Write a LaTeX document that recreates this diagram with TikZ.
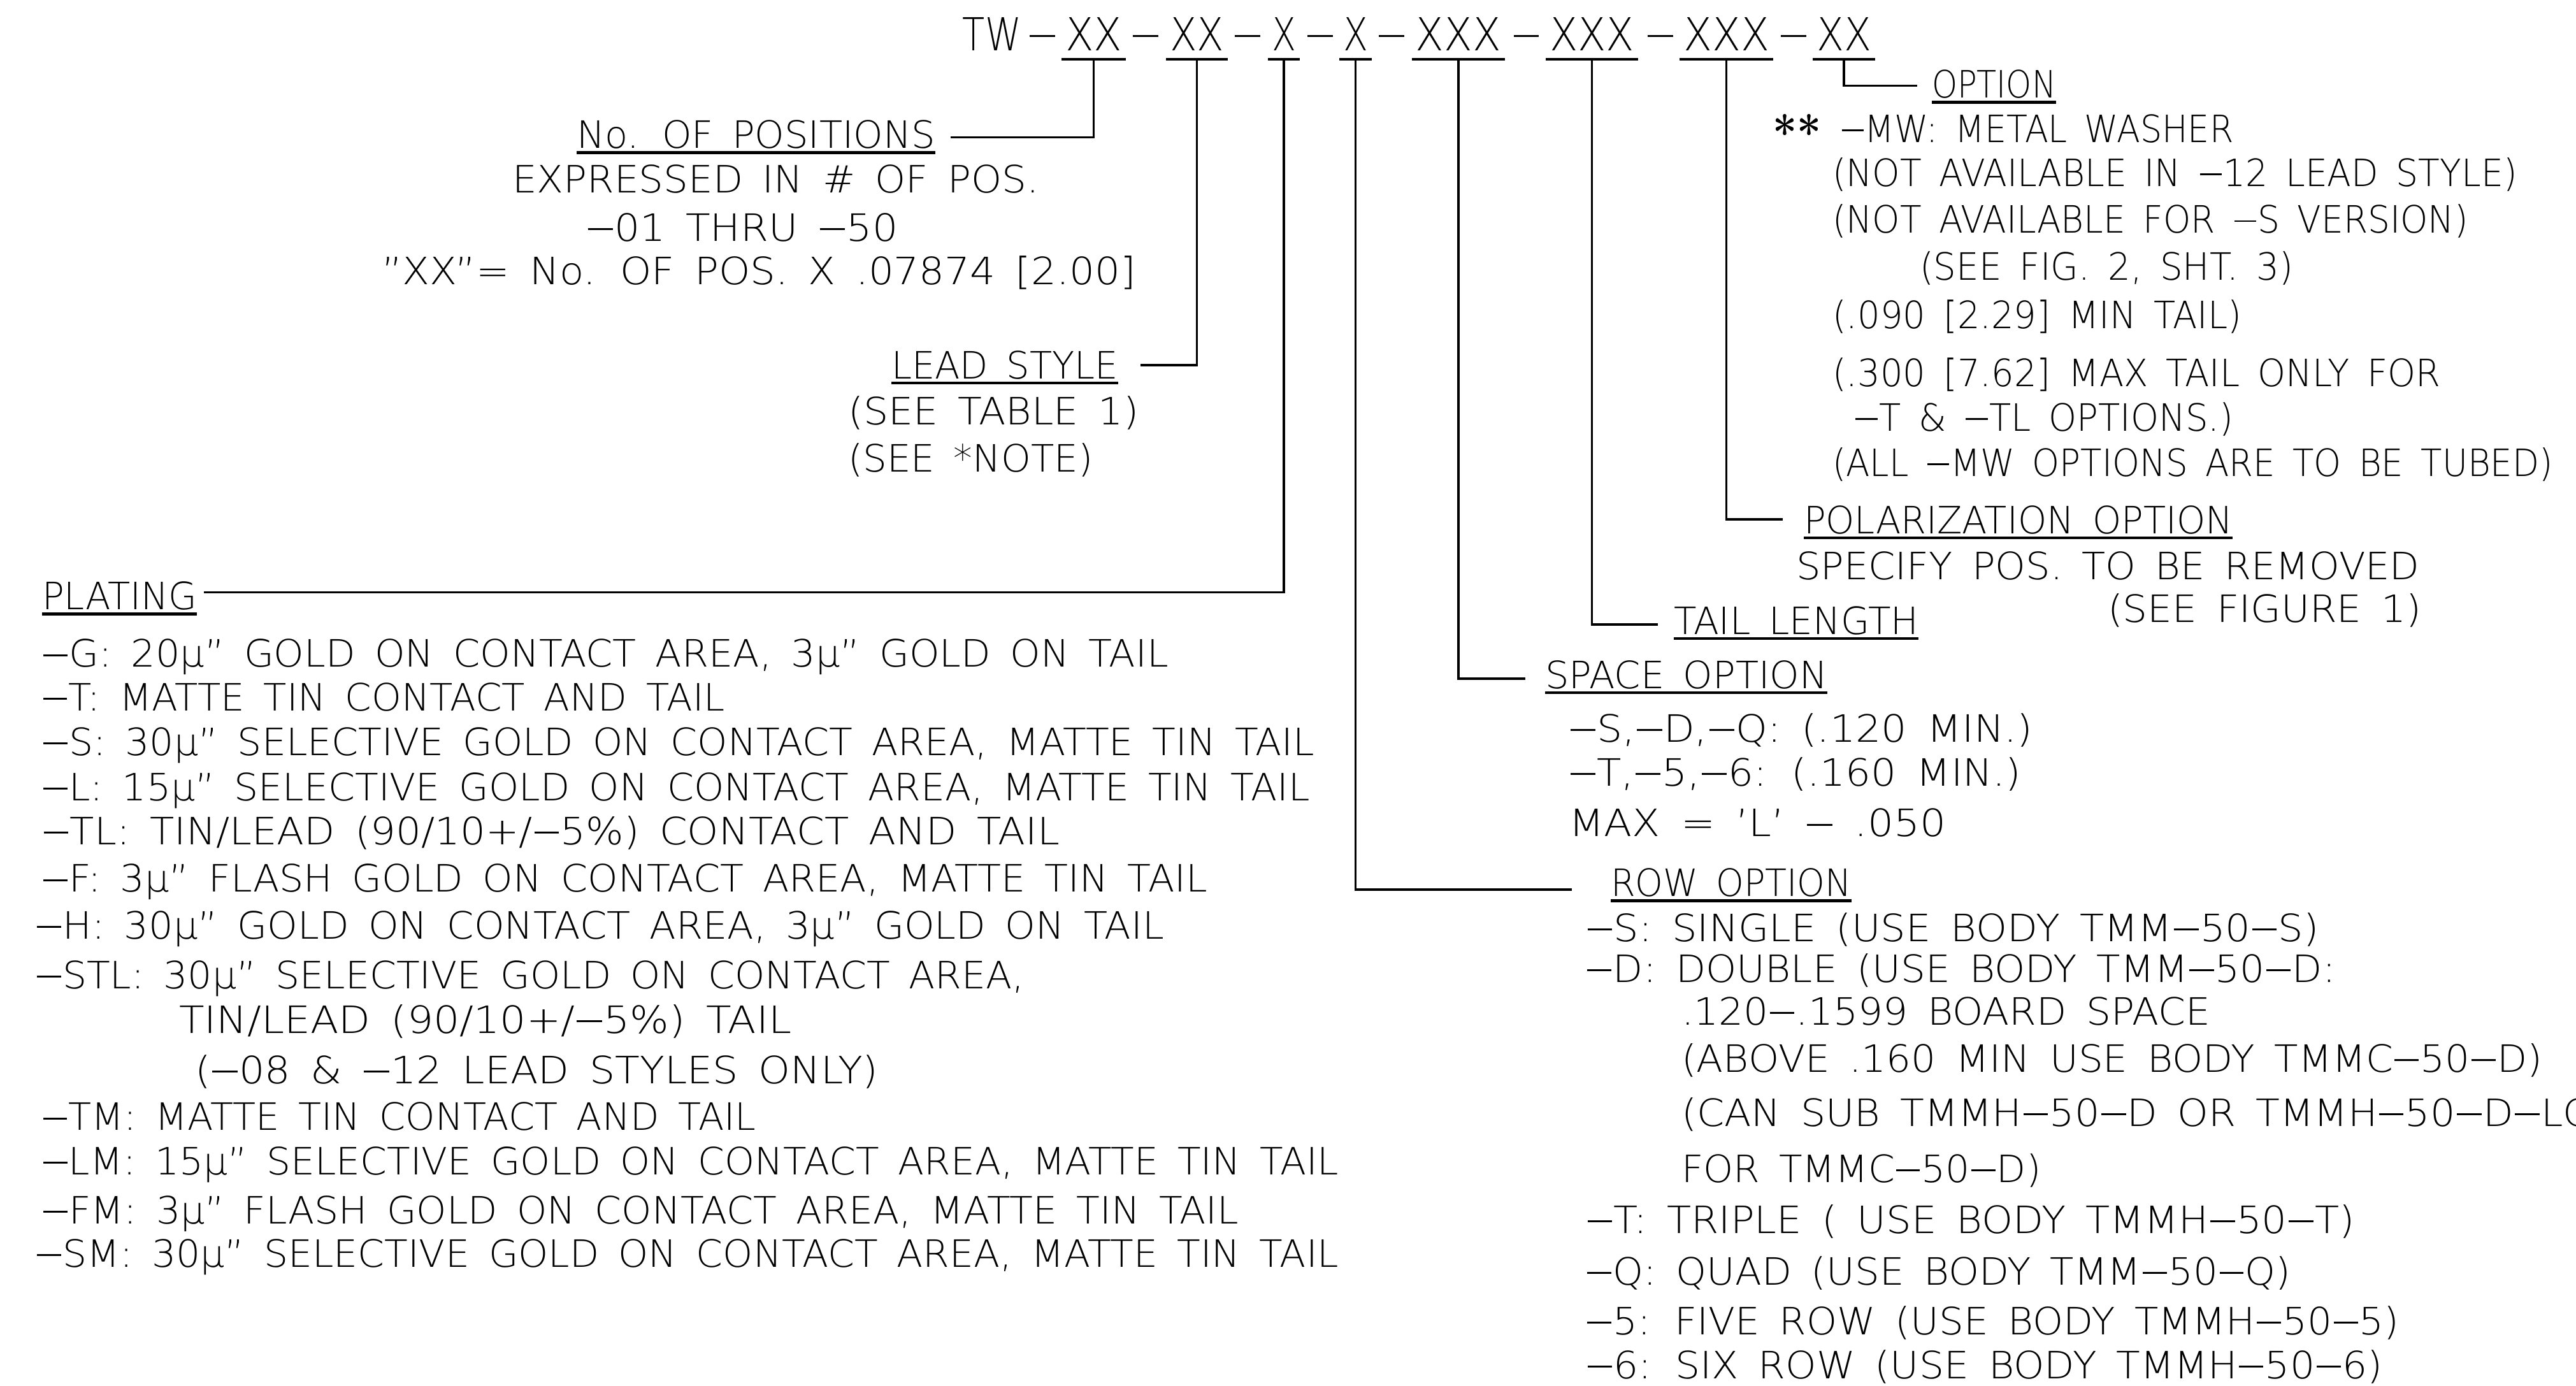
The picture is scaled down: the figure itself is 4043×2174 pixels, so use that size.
\documentclass[tikz,border=0pt]{standalone}
\usepackage{fontspec}
\usepackage{graphicx}
\usetikzlibrary{calc}
\setsansfont{DejaVu Sans ExtraLight}
\newlength\fitnat
\newcommand\fitw[2]{\settowidth\fitnat{#2}\scalebox{\fpeval{#1*0.284528/\fitnat}}[1]{#2}}
\newcommand\dsh{\kern0.04em\rule[0.29em]{0.62em}{0.05em}\kern0.04em}
\newcommand\txtfont{\sffamily\fontsize{16.8pt}{20pt}\selectfont\spaceskip=0.5em\relax}
\newcommand\hdfont{\sffamily\fontsize{20.3pt}{24pt}\selectfont}
\newcommand\astfont{\rmfamily\bfseries\fontsize{21.3pt}{24pt}\selectfont}
\tikzset{
  tx/.style={inner sep=0pt, outer sep=0pt, anchor=base west, font=\txtfont},
  lbl/.style={tx, text depth=0pt},
  hd/.style={inner sep=0pt, outer sep=0pt, anchor=base, font=\hdfont, text depth=0pt},
  conn/.style={line width=1pt},
  ul/.style={line width=1.4pt},
}
\begin{document}
\begin{tikzpicture}[x=0.01cm, y=-0.01cm]
\fill[white] (0,0) rectangle (4043,2174);
\useasboundingbox (0,0) rectangle (4043,2174);

% header
\node[hd] (tw) at (1557,79) {\fitw{92}{TW}};
\node[hd] (d1) at (1636,79) {\fitw{46}{\dsh}};
\node[hd] (g1) at (1716.5,79) {\fitw{89}{XX}};
\node[hd] (d2) at (1798,79) {\fitw{46}{\dsh}};
\node[hd] (g2) at (1878.5,79) {\fitw{85}{XX}};
\node[hd] (d3) at (1958,79) {\fitw{46}{\dsh}};
\node[hd] (g3) at (2015,79) {\fitw{38}{X}};
\node[hd] (d4) at (2072,79) {\fitw{46}{\dsh}};
\node[hd] (g4) at (2127.5,79) {\fitw{39}{X}};
\node[hd] (d5) at (2184,79) {\fitw{46}{\dsh}};
\node[hd] (g5) at (2289,79) {\fitw{134}{XXX}};
\node[hd] (d6) at (2395,79) {\fitw{44}{\dsh}};
\node[hd] (g6) at (2498.5,79) {\fitw{133}{XXX}};
\node[hd] (d7) at (2606,79) {\fitw{46}{\dsh}};
\node[hd] (g7) at (2709.5,79) {\fitw{135}{XXX}};
\node[hd] (d8) at (2815,79) {\fitw{46}{\dsh}};
\node[hd] (g8) at (2894,79) {\fitw{86}{XX}};
\foreach \n in {g1,g2,g3,g4,g5,g6,g7,g8}
  \draw[ul] ($(\n.south west)+(-6,14)$) -- ($(\n.south east)+(6,14)$);

% No. of positions
\node[lbl] (pos) at (905,232.7) {\fitw{563}{No. OF POSITIONS}};
\node[tx] (exp) at (804,302.7) {\fitw{826}{EXPRESSED IN \# OF POS.}};
\node[tx] (thru) at (920,378) {\fitw{489}{\dsh 01 THRU \dsh 50}};
\node[tx] (xxeq) at (599,446.7) {\fitw{1183}{”XX”= No. OF POS. X .07874 [2.00]}};

% lead style
\node[lbl] (lead) at (1399,594) {\fitw{356}{LEAD STYLE}};
\node[tx] (tab) at (1331,666.7) {\fitw{456}{(SEE TABLE 1)}};
\node[tx] (note) at (1331,740) {\fitw{384}{(SEE *NOTE)}};

% plating
\node[lbl] (plating) at (66,956.7) {\fitw{243}{PLATING}};
\node[tx] (pG) at (66,1046.7) {\fitw{1767}{\dsh G: 20µ” GOLD ON CONTACT AREA, 3µ” GOLD ON TAIL}};
\node[tx] (pT) at (66,1115) {\fitw{1071}{\dsh T: MATTE TIN CONTACT AND TAIL}};
\node[tx] (pS) at (66,1185) {\fitw{1996}{\dsh S: 30µ” SELECTIVE GOLD ON CONTACT AREA, MATTE TIN TAIL}};
\node[tx] (pL) at (66,1256) {\fitw{1989}{\dsh L: 15µ” SELECTIVE GOLD ON CONTACT AREA, MATTE TIN TAIL}};
\node[tx] (pTL) at (66,1325) {\fitw{1596}{\dsh TL: TIN/LEAD (90/10+/\dsh 5\%) CONTACT AND TAIL}};
\node[tx] (pF) at (66,1399.7) {\fitw{1828}{\dsh F: 3µ” FLASH GOLD ON CONTACT AREA, MATTE TIN TAIL}};
\node[tx] (pH) at (56,1473.5) {\fitw{1770}{\dsh H: 30µ” GOLD ON CONTACT AREA, 3µ” GOLD ON TAIL}};
\node[tx] (pSTL) at (56,1551) {\fitw{1551}{\dsh STL: 30µ” SELECTIVE GOLD ON CONTACT AREA,}};
\node[tx] (pSTLb) at (281,1621.5) {\fitw{961}{TIN/LEAD (90/10+/\dsh 5\%) TAIL}};
\node[tx] (pSTLc) at (306,1700.3) {\fitw{1072}{(\dsh 08 \& \dsh 12 LEAD STYLES ONLY)}};
\node[tx] (pTM) at (66,1773.7) {\fitw{1120}{\dsh TM: MATTE TIN CONTACT AND TAIL}};
\node[tx] (pLM) at (66,1843.3) {\fitw{2034}{\dsh LM: 15µ” SELECTIVE GOLD ON CONTACT AREA, MATTE TIN TAIL}};
\node[tx] (pFM) at (66,1920) {\fitw{1877}{\dsh FM: 3µ” FLASH GOLD ON CONTACT AREA, MATTE TIN TAIL}};
\node[tx] (pSM) at (56,1988.4) {\fitw{2044}{\dsh SM: 30µ” SELECTIVE GOLD ON CONTACT AREA, MATTE TIN TAIL}};

% option
\node[lbl] (opt) at (3032,153.6) {\fitw{195}{OPTION}};
\node[inner sep=0pt, anchor=base west, font=\astfont] (ast) at (2782,235) {\fitw{76}{**}};
\node[tx] (mw) at (2889,223) {\fitw{616}{\dsh MW: METAL WASHER}};
\node[tx] (o1) at (2876,292) {\fitw{1074}{(NOT AVAILABLE IN \dsh 12 LEAD STYLE)}};
\node[tx] (o2) at (2876,365.6) {\fitw{997}{(NOT AVAILABLE FOR \dsh S VERSION)}};
\node[tx] (o3) at (3013,439) {\fitw{586}{(SEE FIG. 2, SHT. 3)}};
\node[tx] (o4) at (2876,515) {\fitw{642}{(.090 [2.29] MIN TAIL)}};
\node[tx] (o5) at (2876,606.7) {\fitw{954}{(.300 [7.62] MAX TAIL ONLY FOR}};
\node[tx] (o6) at (2910,676) {\fitw{595}{\dsh T \& \dsh TL OPTIONS.)}};
\node[tx] (o7) at (2876,747) {\fitw{1130}{(ALL \dsh MW OPTIONS ARE TO BE TUBED)}};

% polarization
\node[lbl] (pol) at (2831,837) {\fitw{673}{POLARIZATION OPTION}};
\node[tx] (pol1) at (2819,909) {\fitw{978}{SPECIFY POS. TO BE REMOVED}};
\node[tx] (pol2) at (3308,976) {\fitw{492}{(SEE FIGURE 1)}};

% tail length
\node[lbl] (tail) at (2627,995) {\fitw{384}{TAIL LENGTH}};

% space option
\node[lbl] (sp) at (2425,1080) {\fitw{443}{SPACE OPTION}};
\node[tx] (sp1) at (2462,1164) {\fitw{728}{\dsh S,\dsh D,\dsh Q: (.120 MIN.)}};
\node[tx] (sp2) at (2462,1233) {\fitw{710}{\dsh T,\dsh 5,\dsh 6: (.160 MIN.)}};
\node[tx] (sp3) at (2462,1312.6) {\fitw{592}{MAX = 'L' \dsh{} .050}};

% row option
\node[lbl] (row) at (2528,1406) {\fitw{378}{ROW OPTION}};
\node[tx] (rS) at (2489,1477) {\fitw{1150}{\dsh S: SINGLE (USE BODY TMM\dsh 50\dsh S)}};
\node[tx] (rD) at (2489,1541) {\fitw{1176}{\dsh D: DOUBLE (USE BODY TMM\dsh 50\dsh D:}};
\node[tx] (rD2) at (2639,1608) {\fitw{830}{.120\dsh .1599 BOARD SPACE}};
\node[tx] (rD3) at (2639,1682) {\fitw{1351}{(ABOVE .160 MIN USE BODY TMMC\dsh 50\dsh D)}};
\node[tx] (rD4) at (2639,1767) {\fitw{1426}{(CAN SUB TMMH\dsh 50\dsh D OR TMMH\dsh 50\dsh D\dsh LC}};
\node[tx] (rD5) at (2639,1855) {\fitw{564}{FOR TMMC\dsh 50\dsh D)}};
\node[tx] (rT) at (2489,1935) {\fitw{1206}{\dsh T: TRIPLE ( USE BODY TMMH\dsh 50\dsh T)}};
\node[tx] (rQ) at (2489,2016) {\fitw{1106}{\dsh Q: QUAD (USE BODY TMM\dsh 50\dsh Q)}};
\node[tx] (r5) at (2489,2094) {\fitw{1276}{\dsh 5: FIVE ROW (USE BODY TMMH\dsh 50\dsh 5)}};
\node[tx] (r6) at (2489,2163) {\fitw{1250}{\dsh 6: SIX ROW (USE BODY TMMH\dsh 50\dsh 6)}};

% underlines of labels
\foreach \n in {pos,lead,plating,opt,pol,tail,sp,row}
  \draw[ul] ($(\n.south west)+(0,7)$) -- ($(\n.south east)+(0,7)$);

% connectors
\draw[conn] ($(g1.south)+(0,14)$) |- ($(pos.base east)+(24,-17)$);
\draw[conn] ($(g2.south)+(0,14)$) |- ($(lead.base east)+(35,-21)$);
\draw[conn] ($(g3.south)+(0,14)$) |- ($(plating.base east)+(11,-27)$);
\draw[conn] ($(g4.south)+(0,14)$) |- ($(row.base west)+(-61,-10)$);
\draw[conn] ($(g5.south)+(0,14)$) |- ($(sp.base west)+(-31,-15)$);
\draw[conn] ($(g6.south)+(0,14)$) |- ($(tail.base west)+(-25,-15)$);
\draw[conn] ($(g7.south)+(0,14)$) |- ($(pol.base west)+(-33,-22)$);
\draw[conn] ($(g8.south)+(0,14)$) |- ($(opt.base west)+(-23,-19)$);
\end{tikzpicture}
\end{document}
